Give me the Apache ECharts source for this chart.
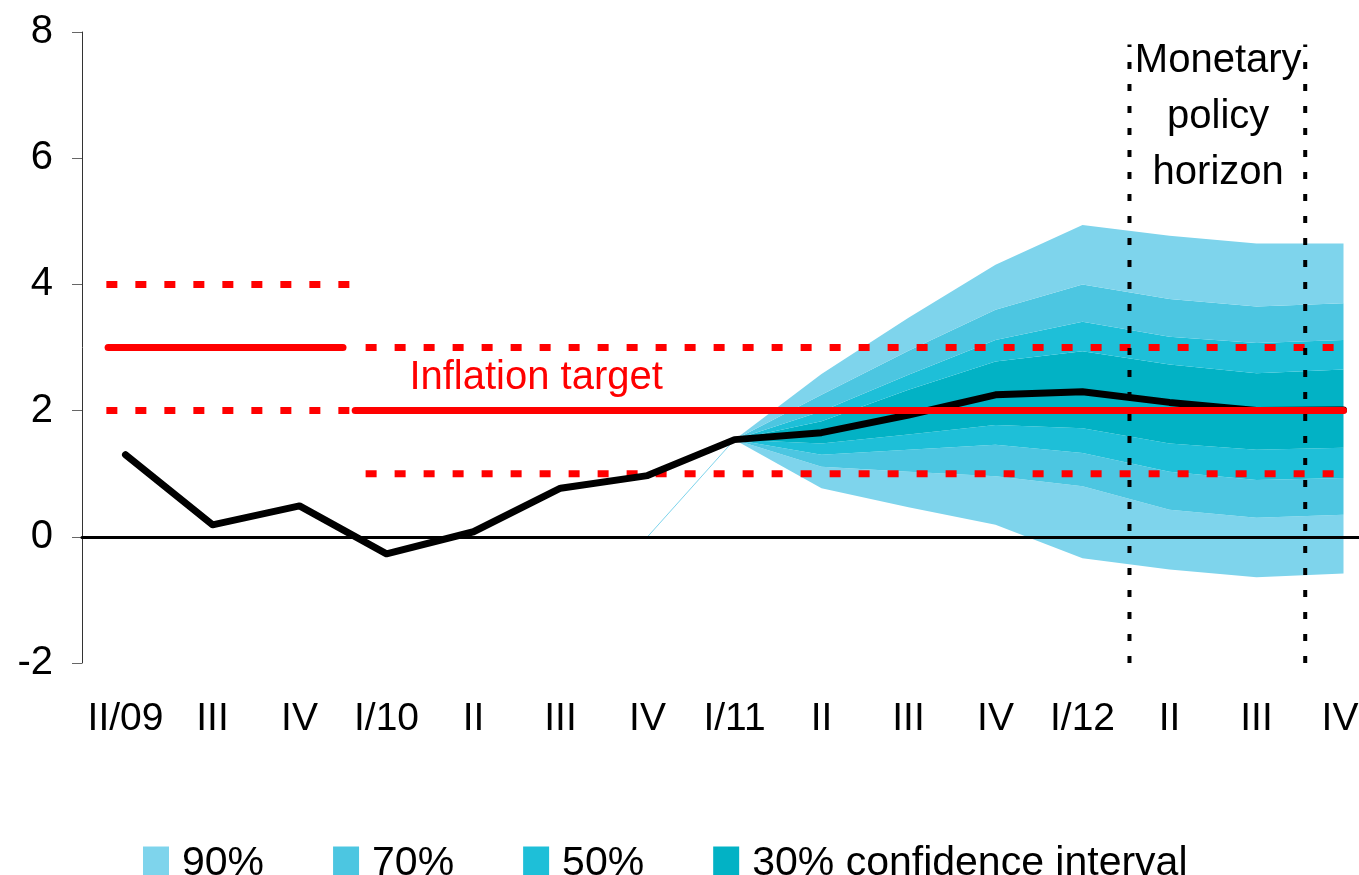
<!DOCTYPE html>
<html>
<head>
<meta charset="utf-8">
<script src="https://cdn.jsdelivr.net/npm/echarts@6/dist/echarts.min.js"></script>
<style>
  html, body { margin: 0; padding: 0; background: #fff; }
  #chart { width: 1359px; height: 875px; }
</style>
</head>
<body>
<div id="chart"></div>
<script>
  // quarters on the x axis
  const categories = ['II/09', 'III', 'IV', 'I/10', 'II', 'III', 'IV', 'I/11', 'II', 'III', 'IV', 'I/12', 'II', 'III', 'IV']
  // inflation (actual + forecast)
  const inflation = [1.30, 0.19, 0.49, -0.27, 0.08, 0.77, 0.97, 1.54, 1.65, 1.93, 2.25, 2.30, 2.13, 2.00, 2.01]
  // fan chart band edges
  const n = null
  const band90Low = [n, n, n, n, n, n, n, 1.54, 0.77, 0.47, 0.19, -0.34, -0.52, -0.64, -0.58]
  const band70Low = [n, n, n, n, n, n, n, 1.54, 1.11, 1.03, 0.96, 0.80, 0.43, 0.30, 0.35]
  const band50Low = [n, n, n, n, n, n, n, 1.54, 1.30, 1.38, 1.46, 1.33, 1.03, 0.90, 0.93]
  const band30Low = [n, n, n, n, n, n, n, 1.54, 1.48, 1.62, 1.77, 1.72, 1.48, 1.38, 1.41]
  const band30High = [n, n, n, n, n, n, n, 1.54, 1.83, 2.33, 2.78, 2.94, 2.73, 2.59, 2.65]
  const band50High = [n, n, n, n, n, n, n, 1.54, 1.99, 2.57, 3.12, 3.41, 3.17, 3.07, 3.12]
  const band70High = [n, n, n, n, n, n, n, 1.54, 2.25, 2.95, 3.60, 4.00, 3.77, 3.65, 3.70]
  const band90High = [n, n, n, n, n, n, n, 1.54, 2.58, 3.47, 4.31, 4.94, 4.77, 4.65, 4.65]
  // thin seam from the stacked area (Excel artifact)
  const seamLine = [n, n, n, n, n, n, 0, 1.54, n, n, n, n, n, n, n]
  // inflation targets (x in quarter index units)
  const oldTarget = 3
  const oldBand = [2, 4]
  const oldSpan = [-0.2, 2.5]
  const oldBandSpan = [-0.22, 2.6]
  const newTarget = 2
  const newBand = [1, 3]
  const newSpan = [2.64, 14]
  const newBandSpan = [2.76, 13.95]
  // monetary policy horizon
  const horizon = [11.54, 13.56]
  const horizonTop = 7.8
  const legendNames = ['90%', '70%', '50%', '30% confidence interval']
  const bandColors = ['#7ED4EC', '#4CC6E1', '#1EBFD8', '#02B2C5']

  const FONT = 'Liberation Sans, Arial, sans-serif'

  function diff(hi, lo) {
    return hi.map((v, i) => (v == null || lo[i] == null) ? null : +(v - lo[i]).toFixed(3))
  }

  function bandPiece(name, color, data) {
    return {
      name: name,
      type: 'line',
      stack: 'fan',
      stackStrategy: 'all',
      data: data,
      symbol: 'none',
      lineStyle: { width: 0, color: color },
      itemStyle: { color: color },
      areaStyle: { color: color, opacity: 1 },
      z: 2
    }
  }

  function seg(x0, x1, y) {
    return [[x0, y], [x1, y]]
  }

  const redDots = { color: '#ff0000', width: 7, type: [11, 18], cap: 'butt' }
  const redSolid = { color: '#ff0000', width: 7, cap: 'round' }
  const textLabel = { show: true, position: 'inside', fontSize: 40, fontFamily: FONT, opacity: 1 }

  const series = [
    {
      name: 'base', type: 'line', stack: 'fan', stackStrategy: 'all',
      data: band90Low, symbol: 'none', lineStyle: { width: 0 }, z: 2
    },
    bandPiece('90%', bandColors[0], diff(band70Low, band90Low)),
    bandPiece('70%', bandColors[1], diff(band50Low, band70Low)),
    bandPiece('50%', bandColors[2], diff(band30Low, band50Low)),
    bandPiece('30% confidence interval', bandColors[3], diff(band30High, band30Low)),
    bandPiece('50%', bandColors[2], diff(band50High, band30High)),
    bandPiece('70%', bandColors[1], diff(band70High, band50High)),
    bandPiece('90%', bandColors[0], diff(band90High, band70High)),
    {
      type: 'line', data: seamLine, symbol: 'none',
      lineStyle: { color: '#7ED4EC', width: 1 }, z: 3
    },
    // target bands
    { type: 'line', xAxisIndex: 1, data: seg(oldBandSpan[0], oldBandSpan[1], oldBand[1]), symbol: 'none', lineStyle: redDots, z: 4 },
    { type: 'line', xAxisIndex: 1, data: seg(oldBandSpan[0], oldBandSpan[1], oldBand[0]), symbol: 'none', lineStyle: redDots, z: 4 },
    { type: 'line', xAxisIndex: 1, data: seg(newBandSpan[0], newBandSpan[1], newBand[1]), symbol: 'none', lineStyle: redDots, z: 4 },
    { type: 'line', xAxisIndex: 1, data: seg(newBandSpan[0], newBandSpan[1], newBand[0]), symbol: 'none', lineStyle: redDots, z: 4 },
    // horizon
    { type: 'line', xAxisIndex: 1, data: [[horizon[0], -2], [horizon[0], horizonTop]], symbol: 'none',
      lineStyle: { color: '#000', width: 4, type: [7, 15] }, z: 4 },
    { type: 'line', xAxisIndex: 1, data: [[horizon[1], -2], [horizon[1], horizonTop]], symbol: 'none',
      lineStyle: { color: '#000', width: 4, type: [7, 15] }, z: 4 },
    // inflation
    {
      name: 'inflation', type: 'line', data: inflation, symbol: 'none',
      lineStyle: { color: '#000', width: 7, cap: 'round', join: 'round' }, z: 5
    },
    // targets
    { type: 'line', xAxisIndex: 1, data: seg(oldSpan[0], oldSpan[1], oldTarget), symbol: 'none', lineStyle: redSolid, z: 6 },
    { type: 'line', xAxisIndex: 1, data: seg(newSpan[0], newSpan[1], newTarget), symbol: 'none', lineStyle: redSolid, z: 6 },
    // texts
    {
      type: 'scatter', xAxisIndex: 1, symbolSize: 1, itemStyle: { color: 'rgba(0,0,0,0)', opacity: 1 }, z: 7,
      data: [[4.72, 2.52]],
      label: Object.assign({}, textLabel, { formatter: 'Inflation target', color: '#ff0000' })
    },
    {
      type: 'scatter', xAxisIndex: 1, symbolSize: 1, itemStyle: { color: 'rgba(0,0,0,0)', opacity: 1 }, z: 7,
      data: [[12.56, 6.66]],
      label: Object.assign({}, textLabel, { formatter: 'Monetary\npolicy\nhorizon', color: '#000', lineHeight: 56, align: 'center' })
    }
  ]

  const chart = echarts.init(document.getElementById('chart'))
  chart.setOption({
    animation: false,
    backgroundColor: '#fff',
    grid: { left: 82, top: 32, width: 1305, height: 631, outerBoundsMode: 'none' },
    legend: {
      data: legendNames.map((name, i) => ({ name: name, itemStyle: { color: bandColors[i], opacity: 1 } })),
      left: 138,
      top: 838,
      icon: 'rect',
      itemWidth: 26,
      itemHeight: 34,
      itemGap: 69,
      selectedMode: false,
      textStyle: { color: '#000', fontFamily: FONT, fontSize: 41, padding: [0, 0, 0, 8] }
    },
    xAxis: [
      {
        type: 'category',
        data: categories,
        boundaryGap: true,
        axisLine: { show: false, onZero: false },
        axisTick: { show: false },
        axisLabel: {
          color: '#000', fontSize: 39, fontFamily: FONT, margin: 37, interval: 0,
          formatter: (value, index) => index === categories.length - 1 ? '{last|' + value + '}' : value,
          rich: { last: { fontSize: 39, fontFamily: FONT, color: '#000', padding: [0, 7, 0, 0] } }
        },
        splitLine: { show: false }
      },
      {
        type: 'value',
        min: -0.5,
        max: 14.5,
        position: 'bottom',
        z: 5,
        axisLine: { show: true, onZero: true, lineStyle: { color: '#000', width: 3 } },
        axisTick: { show: false },
        axisLabel: { show: false },
        splitLine: { show: false }
      }
    ],
    yAxis: {
      type: 'value',
      min: -2,
      max: 8,
      interval: 2,
      axisLine: { show: true, onZero: false, lineStyle: { color: '#333', width: 1 } },
      axisTick: { show: true, length: 10, lineStyle: { color: '#666' } },
      axisLabel: { color: '#000', fontSize: 40, fontFamily: FONT, margin: 29 },
      splitLine: { show: false }
    },
    series: series
  })
</script>
</body>
</html>
